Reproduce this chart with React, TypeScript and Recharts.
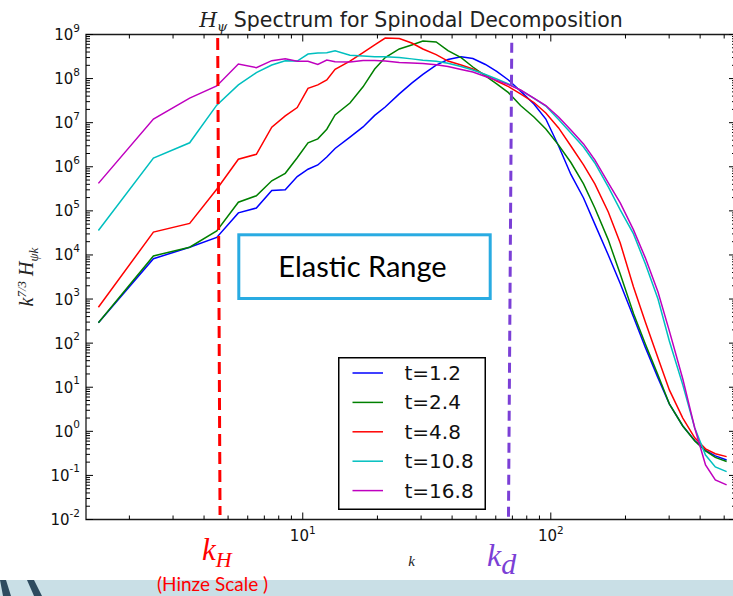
import React from 'react';
import { LineChart, Line, XAxis, YAxis, ReferenceLine, ReferenceArea, Legend } from 'recharts';

// wavenumbers (bin centres)
const kValues = [1.5, 2.5, 3.5, 4.5, 5.5, 6.5, 7.5, 8.5, 9.5, 10.5, 11.5, 12.5, 13.5, 15.5, 17.5, 19.5, 21.5, 24.5, 27.5, 30.5, 34.5, 38.5, 43.5, 48.5, 54.5, 60.5, 67.5, 75.5, 85.5, 95.5, 107.5, 120.5, 135.5, 150.5, 170.5, 190.5, 215.5, 240.5, 270.5, 300.5, 340.5, 380.5, 420.5, 460.5, 511.5];

const hT12 = [2.9e2, 8.2e3, 1.5e4, 2.5e4, 9.0e4, 1.16e5, 2.9e5, 3.0e5, 6.0e5, 8.8e5, 1.1e6, 1.67e6, 2.6e6, 4.7e6, 8.0e6, 1.46e7, 2.27e7, 4.5e7, 7.9e7, 1.24e8, 2.03e8, 2.7e8, 3.14e8, 2.86e8, 2.09e8, 1.45e8, 9.3e7, 5.2e7, 2.65e7, 1.21e7, 2.96e6, 6.7e5, 1.96e5, 5.0e4, 1.0e4, 2.26e3, 3.9e2, 80, 16.3, 4.2, 1.32, 0.62, 0.37, 0.277, 0.224];
const hT24 = [2.9e2, 9.5e3, 1.5e4, 3.5e4, 1.57e5, 2.2e5, 4.8e5, 7.1e5, 1.6e6, 3.5e6, 4.3e6, 7.1e6, 1.5e7, 2.8e7, 6.5e7, 1.65e8, 3.0e8, 4.7e8, 5.8e8, 7.1e8, 6.8e8, 4.3e8, 3.0e8, 1.83e8, 1.15e8, 7.6e7, 4.8e7, 2.45e7, 1.35e7, 7.2e6, 3.1e6, 1.25e6, 4.1e5, 1.16e5, 2.2e4, 3.7e3, 4.7e2, 96, 19, 4.2, 1.32, 0.605, 0.36, 0.256, 0.206];
const hT48 = [6.5e2, 3.3e4, 5.2e4, 3.1e5, 1.48e6, 1.92e6, 7.9e6, 1.42e7, 2.2e7, 6.0e7, 7.2e7, 9.3e7, 1.63e8, 2.5e8, 3.9e8, 5.8e8, 8.3e8, 8.1e8, 6.4e8, 4.7e8, 3.5e8, 2.5e8, 2.03e8, 1.65e8, 1.21e8, 8.8e7, 6.6e7, 4.5e7, 2.87e7, 1.66e7, 7.6e6, 2.96e6, 1.1e6, 4.1e5, 9.4e4, 1.87e4, 1.88e3, 3.0e2, 46, 8.7, 2.0, 0.71, 0.40, 0.31, 0.267];
const hT108 = [3.6e4, 1.58e6, 3.5e6, 2.5e7, 7.2e7, 1.36e8, 2.03e8, 2.55e8, 2.5e8, 3.6e8, 3.8e8, 3.86e8, 4.3e8, 3.4e8, 3.25e8, 3.14e8, 3.14e8, 3.0e8, 2.8e8, 2.6e8, 2.47e8, 2.22e8, 1.88e8, 1.57e8, 1.24e8, 9.8e7, 7.6e7, 5.5e7, 3.54e7, 2.39e7, 1.18e7, 5.8e6, 2.8e6, 1.22e6, 3.5e5, 1.05e5, 3.0e4, 6.3e3, 1.0e3, 1.12e2, 11.3, 1.19, 0.29, 0.156, 0.122];
const hT168 = [4.2e5, 1.21e7, 3.6e7, 6.8e7, 2.14e8, 1.77e8, 2.55e8, 2.8e8, 2.47e8, 2.47e8, 2.1e8, 2.64e8, 2.42e8, 2.38e8, 2.57e8, 2.57e8, 2.5e8, 2.32e8, 2.26e8, 2.2e8, 2.07e8, 1.88e8, 1.61e8, 1.41e8, 1.12e8, 9.1e7, 7.3e7, 5.5e7, 3.6e7, 2.45e7, 1.35e7, 6.8e6, 3.3e6, 1.43e6, 4.3e5, 1.51e5, 3.7e4, 8.6e3, 1.45e3, 1.9e2, 15.4, 1.19, 0.173, 0.079, 0.061];

const seriesKeys = ['t12', 't24', 't48', 't108', 't168'];
const seriesNames = ['t=1.2', 't=2.4', 't=4.8', 't=10.8', 't=16.8'];
const seriesColors = ['#0000ff', '#008000', '#ff0000', '#00bfbf', '#bf00bf'];
const seriesValues = [hT12, hT24, hT48, hT108, hT168];

const xDomain = [1.337, 558];
const yDomain = [0.01, 1e9];
const xTicks = [2, 3, 4, 5, 6, 7, 8, 9, 10, 20, 30, 40, 50, 60, 70, 80, 90, 100, 200, 300, 400, 500];
const yExponents = [-2, -1, 0, 1, 2, 3, 4, 5, 6, 7, 8, 9];
const yTicks: number[] = [];
yExponents.forEach((e) => {
  yTicks.push(Math.pow(10, e));
  if (e < 9) for (let m = 2; m <= 9; m++) yTicks.push(m * Math.pow(10, e));
});

const kHinze = [4.54, 4.64];
const kDiss = [69.6, 67.5];

const data = kValues.map((k, i) => {
  const row: Record<string, number> = { k };
  seriesKeys.forEach((key, s) => { row[key] = seriesValues[s][i]; });
  return row;
});

const PLOT_W = 650;
const PLOT_H = 485;
const TICK_FONT = 'DejaVu Sans';

const isMajor = (v: number) => {
  const l = Math.log10(v);
  return Math.abs(l - Math.round(l)) < 1e-6;
};

const XTick = (props: any) => {
  const { x, y, payload } = props;
  const v = payload.value;
  const major = isMajor(v);
  const len = major ? 7 : 4;
  const exp = Math.round(Math.log10(v));
  return (
    <g>
      <line x1={x} x2={x} y1={y} y2={y - len} stroke="#000" strokeWidth={1} />
      <line x1={x} x2={x} y1={y - PLOT_H} y2={y - PLOT_H + len} stroke="#000" strokeWidth={1} />
      {major && (
        <text x={x} y={y + 21.5} textAnchor="middle" fontFamily={TICK_FONT} fontSize={15} fill="#111">
          10<tspan dy={-7} fontSize={10.5}>{exp}</tspan>
        </text>
      )}
    </g>
  );
};

const YTick = (props: any) => {
  const { x, y, payload } = props;
  const v = payload.value;
  const major = isMajor(v);
  const len = major ? 7 : 4;
  const exp = Math.round(Math.log10(v));
  return (
    <g>
      <line x1={x} x2={x + len} y1={y} y2={y} stroke="#000" strokeWidth={1} />
      <line x1={x + PLOT_W} x2={x + PLOT_W - len} y1={y} y2={y} stroke="#000" strokeWidth={1} />
      {major && (
        <text x={x - 6} y={y + 5.5} textAnchor="end" fontFamily={TICK_FONT} fontSize={15} fill="#111">
          10<tspan dy={-8.5} fontSize={10.5}>{exp < 0 ? '-' + Math.abs(exp) : exp}</tspan>
        </text>
      )}
    </g>
  );
};

const LegendBox = () => (
  <svg width={148} height={153} style={{ display: 'block' }}>
    <rect x={0.75} y={0.75} width={146.5} height={151.5} fill="#fff" stroke="#000" strokeWidth={1.5} />
    {seriesNames.map((n, i) => {
      const cy = 16 + i * 29.4;
      return (
        <g key={n}>
          <line x1={14.5} x2={45} y1={cy} y2={cy} stroke={seriesColors[i]} strokeWidth={1.5} />
          <text x={66.5} y={cy + 7} fontFamily={TICK_FONT} fontSize={20} fill="#111">{n}</text>
        </g>
      );
    })}
  </svg>
);

export default function App() {
  return (
    <div style={{ position: 'fixed', left: 0, top: 0, width: 733, height: 596, overflow: 'hidden', background: '#fff' }}>
      <div style={{ position: 'absolute', left: 0, top: 0 }}>
        <LineChart width={740} height={596} data={data} margin={{ top: 34.5, right: 4, bottom: 0, left: 0 }}>
          <XAxis
            dataKey="k"
            type="number"
            scale="log"
            domain={xDomain}
            allowDataOverflow
            ticks={xTicks}
            interval={0}
            tick={<XTick />}
            tickLine={false}
            axisLine={false}
            tickSize={0}
            tickMargin={0}
            height={76.5}
          />
          <YAxis
            type="number"
            scale="log"
            domain={yDomain}
            allowDataOverflow
            ticks={yTicks}
            interval={0}
            tick={<YTick />}
            tickLine={false}
            axisLine={false}
            tickSize={0}
            tickMargin={0}
            width={86}
          />
          <ReferenceArea x1={xDomain[0]} x2={xDomain[1]} y1={yDomain[0]} y2={yDomain[1]} fill="none" fillOpacity={0} stroke="#1a1a1a" strokeWidth={1.3} ifOverflow="visible" />
          {seriesKeys.map((key, i) => (
            <Line key={key} dataKey={key} name={seriesNames[i]} type="linear" stroke={seriesColors[i]} strokeWidth={1.5} dot={false} isAnimationActive={false} />
          ))}
          <ReferenceLine segment={[{ x: kHinze[0], y: 8.3e8 }, { x: kHinze[1], y: 0.0127 }]} stroke="#ff0000" strokeWidth={3} strokeDasharray="12 6" ifOverflow="visible" />
          <ReferenceLine segment={[{ x: kDiss[0], y: 6.5e8 }, { x: kDiss[1], y: 0.01 }]} stroke="#7b3fd6" strokeWidth={3} strokeDasharray="10 6" ifOverflow="visible" />
          <Legend
            layout="vertical"
            align="center"
            verticalAlign="middle"
            wrapperStyle={{ left: 338.3, top: 357.3, width: 148, height: 153 }}
            content={() => <LegendBox />}
          />
        </LineChart>
      </div>
      <svg width={733} height={596} style={{ position: 'absolute', left: 0, top: 0, pointerEvents: 'none' }}>
        {/* title */}
        <text x={411} y={27} textAnchor="middle" fontFamily={TICK_FONT} fontSize={20.5} fill="#222">
          <tspan fontFamily="DejaVu Serif" fontStyle="italic">H</tspan>
          <tspan dy={4} fontSize={13} fontFamily="DejaVu Serif" fontStyle="italic">ψ</tspan>
          <tspan dy={-4}> Spectrum for Spinodal Decomposition</tspan>
        </text>
        {/* y label */}
        <text x={33} y={277} transform="rotate(-90 33 277)" textAnchor="middle" fontFamily="Liberation Serif" fontStyle="italic" fontSize={20} fill="#222">
          k<tspan dy={-7} fontSize={13}>7/3</tspan>
          <tspan dy={7}> H</tspan>
          <tspan dy={5} fontSize={13}>ψk</tspan>
        </text>
        {/* x label */}
        <text x={411.5} y={566} textAnchor="middle" fontFamily="Liberation Serif" fontStyle="italic" fontSize={15} fill="#222">k</text>
        {/* elastic range box */}
        <rect x={238.8} y={234.8} width={251.4} height={63.7} fill="#fff" stroke="#29abe2" strokeWidth={3} />
        <text x={362.5} y={277} textAnchor="middle" fontFamily="Lato" fontSize={29} fill="#000">Elastic Range</text>
        {/* slide band */}
        <rect x={0} y={580} width={733} height={16} fill="#c9dfe6" />
        <polygon points="0,580 6,580 11,596 3,596" fill="#2d4b5f" />
        <polygon points="27,580 34,580 42,596 34,596" fill="#2d4b5f" />
        {/* k_H annotation */}
        <text x={202} y={560} fontFamily="Liberation Serif" fontStyle="italic" fontSize={31} fill="#ff0000">
          k<tspan dy={7} fontSize={22}>H</tspan>
        </text>
        <text x={157} y={591} fontFamily="Lato" fontSize={19} fill="#ff0000">(Hinze Scale )</text>
        {/* k_d annotation */}
        <text x={487} y={566} fontFamily="Liberation Serif" fontStyle="italic" fontSize={32} fill="#7b3fd6">
          k<tspan dy={8} fontSize={30}>d</tspan>
        </text>
      </svg>
    </div>
  );
}
